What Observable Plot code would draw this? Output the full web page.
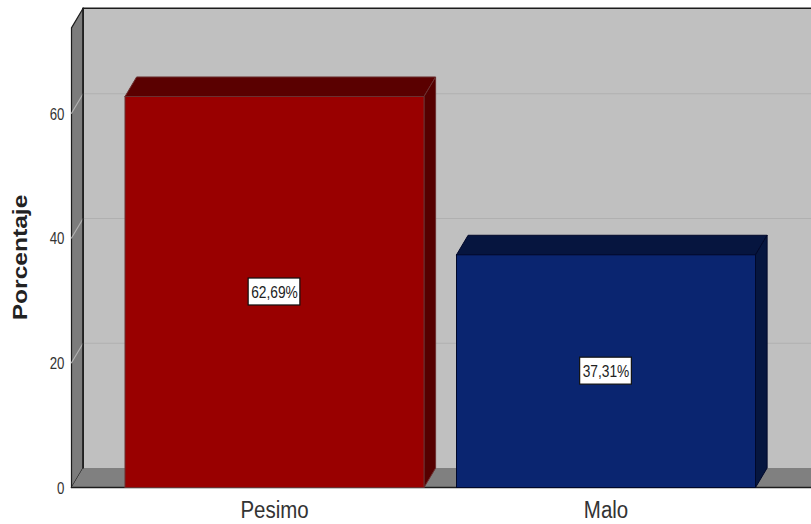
<!DOCTYPE html>
<html>
<head>
<meta charset="utf-8">
<style>html,body{margin:0;padding:0;background:#fff}svg{display:block}</style>
<script src="https://cdn.jsdelivr.net/npm/d3@7"></script>
<script src="https://cdn.jsdelivr.net/npm/@observablehq/plot@0.6"></script>
</head>
<body>
<script>
const categories = ["Pesimo", "Malo"];
const values = [62.69, 37.31];
const valueLabels = ["62,69%", "37,31%"];
const frontColors = ["#990000", "#0a2570"];
const topColors = ["#5a0000", "#06153f"];
const sideColors = ["#550000", "#06163f"];
const edgeColors = ["#6b3030", "#00082a"];
const yTicks = [0, 20, 40, 60];
const gridValues = [20, 40, 60];

// Scale layout in data units
const xMin = -0.6124, xMax = 1.6199, yMax = 76.96, wallTop = 73.7;
const halfBar = 0.451, dx = 0.035, dy = 3.13;
const boxHalfW = 0.078, boxHalfH = 2.16;
const sans = "'Liberation Sans', Arial, sans-serif";

const poly = (id, pts) => [...pts, pts[0]].map(([x, y]) => ({id, x, y}));
const polyMark = (rows, fill, stroke, strokeWidth = 1) =>
  Plot.line(rows, {x: "x", y: "y", z: "id", fill, stroke, strokeWidth, curve: "linear", strokeLinejoin: "round"});

const bars = categories.map((c, i) => ({c, i, v: values[i], label: valueLabels[i]}));
const grid = gridValues.flatMap(v => [
  {id: v, x: xMin, y: v},
  {id: v, x: xMin + dx, y: v + dy},
  {id: v, x: xMax, y: v + dy}
]);

const barMarks = bars.flatMap(({i, v}) => {
  const l = i - halfBar, r = i + halfBar;
  return [
    polyMark(poly("top" + i, [[l, v], [l + dx, v + dy], [r + dx, v + dy], [r, v]]), topColors[i], edgeColors[i]),
    polyMark(poly("side" + i, [[r, 0], [r + dx, dy], [r + dx, v + dy], [r, v]]), sideColors[i], edgeColors[i]),
    polyMark(poly("front" + i, [[l, 0], [l, v], [r, v], [r, 0]]), frontColors[i], edgeColors[i])
  ];
});

const chart = Plot.plot({
  width: 811, height: 524,
  marginLeft: 71, marginRight: 0, marginTop: 7, marginBottom: 37,
  x: {domain: [xMin, xMax]},
  y: {domain: [0, yMax]},
  style: {background: "#fff", fontFamily: sans},
  marks: [
    polyMark(poly("back", [[xMin + dx, dy], [xMin + dx, wallTop + dy], [xMax, wallTop + dy], [xMax, dy]]), "#c0c0c0", "none"),
    polyMark(poly("left", [[xMin, 0], [xMin, wallTop], [xMin + dx, wallTop + dy], [xMin + dx, dy]]), "#7c7c7c", "#1c1c1c", 1.2),
    polyMark(poly("floor", [[xMin, 0], [xMin + dx, dy], [xMax, dy], [xMax, 0]]), "#808080", "none"),
    Plot.line(grid, {x: "x", y: "y", z: "id", stroke: "#b0b0b0", strokeWidth: 1.2}),
    Plot.line([[xMin + dx, wallTop + dy], [xMax, wallTop + dy]], {stroke: "#1c1c1c", strokeWidth: 1.6}),
    Plot.line([[xMin + dx, wallTop + dy], [xMin + dx, dy]], {stroke: "#1c1c1c", strokeWidth: 1.6}),
    Plot.line([[xMin, 0], [xMax, 0]], {stroke: "#1c1c1c", strokeWidth: 1.6}),
    ...barMarks,
    Plot.rect(bars, {
      x1: d => d.i - boxHalfW, x2: d => d.i + boxHalfW,
      y1: d => d.v / 2 - boxHalfH, y2: d => d.v / 2 + boxHalfH,
      fill: "#fff", stroke: "#111", strokeWidth: 1.2
    }),
    Plot.text(bars, {
      x: "i", y: d => d.v / 2, dy: 1, text: "label", className: "value-label",
      fontFamily: sans, fontSize: 16, fill: "#222"
    }),
    Plot.axisY({
      ticks: yTicks, tickSize: 0, tickPadding: 7, label: null, dy: 1, className: "y-tick",
      fontFamily: sans, fontSize: 17, fill: "#333"
    }),
    Plot.axisX({
      ticks: [0, 1], tickSize: 0, tickPadding: 14.5, label: null, className: "x-tick",
      tickFormat: i => categories[i],
      fontFamily: sans, fontSize: 23, fill: "#333"
    }),
    Plot.text(["Porcentaje"], {
      frameAnchor: "left", textAnchor: "middle", dx: -51, dy: 10, rotate: -90, className: "y-title",
      fontWeight: "bold", fontSize: 21, fill: "#222", fontFamily: sans
    })
  ]
});
document.body.appendChild(chart);

// Condense or widen glyphs horizontally to match the reference's stretched type
const stretch = (cls, factor) => chart.querySelectorAll(`.${cls} text`).forEach(t => {
  t.setAttribute("textLength", t.getComputedTextLength() * factor);
  t.setAttribute("lengthAdjust", "spacingAndGlyphs");
});
stretch("value-label", 0.86);
stretch("y-tick", 0.78);
stretch("x-tick", 0.89);
stretch("y-title", 1.17);
</script>
</body>
</html>
